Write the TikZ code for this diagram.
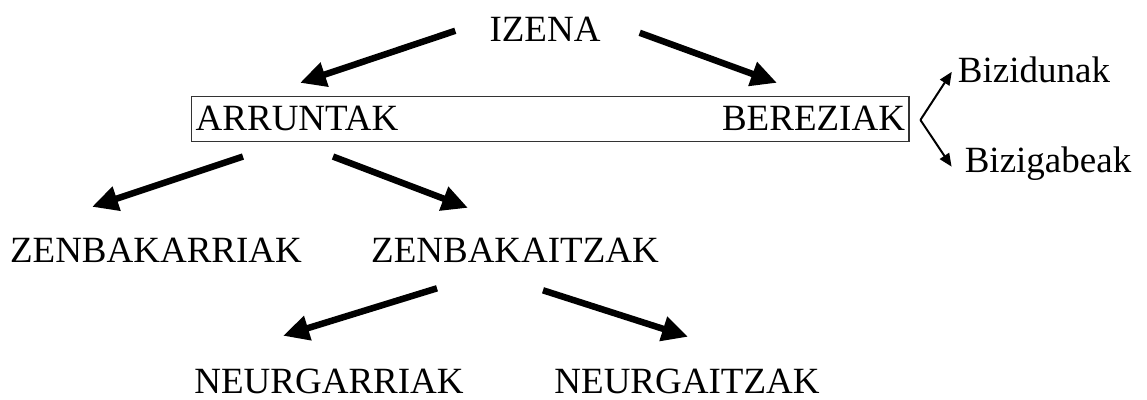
\documentclass[tikz,border=0pt]{standalone}
\usepackage{fontspec}
\setmainfont{Liberation Serif}
\usetikzlibrary{arrows.meta,fit}
\begin{document}
\begin{tikzpicture}[x=1pt,y=1pt,
  term/.style={inner sep=0pt, anchor=base, font=\fontsize{37}{44}\selectfont},
  bigarrow/.style={line width=6.5pt, -{Triangle[length=26pt,width=24pt]}},
  smallarrow/.style={line width=2pt, -{Triangle[length=13pt,width=11pt]}}]
\useasboundingbox (0,0) rectangle (1147,399);
\node[term] (izena) at (545,357) {IZENA};
\node[term] (arruntak) at (297,268) {ARRUNTAK};
\node[term] (bereziak) at (813.5,268) {BEREZIAK};
\node[term] (bizidunak) at (1034,316) {Bizidunak};
\node[term] (bizigabeak) at (1048,226) {Bizigabeak};
\node[term] (zenbakarriak) at (156,136) {ZENBAKARRIAK};
\node[term] (zenbakaitzak) at (515,136) {ZENBAKAITZAK};
\node[term] (neurgarriak) at (329,6) {NEURGARRIAK};
\node[term] (neurgaitzak) at (687,6) {NEURGAITZAK};
\node[draw, black!80, line width=1.5pt, inner xsep=4pt, inner ysep=10pt, fit=(arruntak)(bereziak)] (box) {};

\path[draw,bigarrow] ([shift={(-34,-1)}]izena.west) -- ([shift={(3,23.5)}]arruntak.north);
\path[draw,bigarrow] ([shift={(39,-3)}]izena.east) -- ([shift={(-36.5,23.5)}]bereziak.north);
\path[draw,bigarrow] ([shift={(-54,-25)}]arruntak.south) -- ([shift={(-64,31.5)}]zenbakarriak.north);
\path[draw,bigarrow] ([shift={(36,-25)}]arruntak.south) -- ([shift={(-47,30.5)}]zenbakaitzak.north);
\path[draw,bigarrow] ([shift={(-78,-25)}]zenbakaitzak.south) -- ([shift={(-46,32.5)}]neurgarriak.north);
\path[draw,bigarrow] ([shift={(28,-27)}]zenbakaitzak.south) -- ([shift={(1,31.5)}]neurgaitzak.north);
\path[draw,smallarrow] ([shift={(10.5,-1)}]box.east) -- ([shift={(-6,-1.5)}]bizidunak.west);
\path[draw,smallarrow] ([shift={(10.5,-1)}]box.east) -- ([shift={(-13,-2.5)}]bizigabeak.west);
\end{tikzpicture}
\end{document}
